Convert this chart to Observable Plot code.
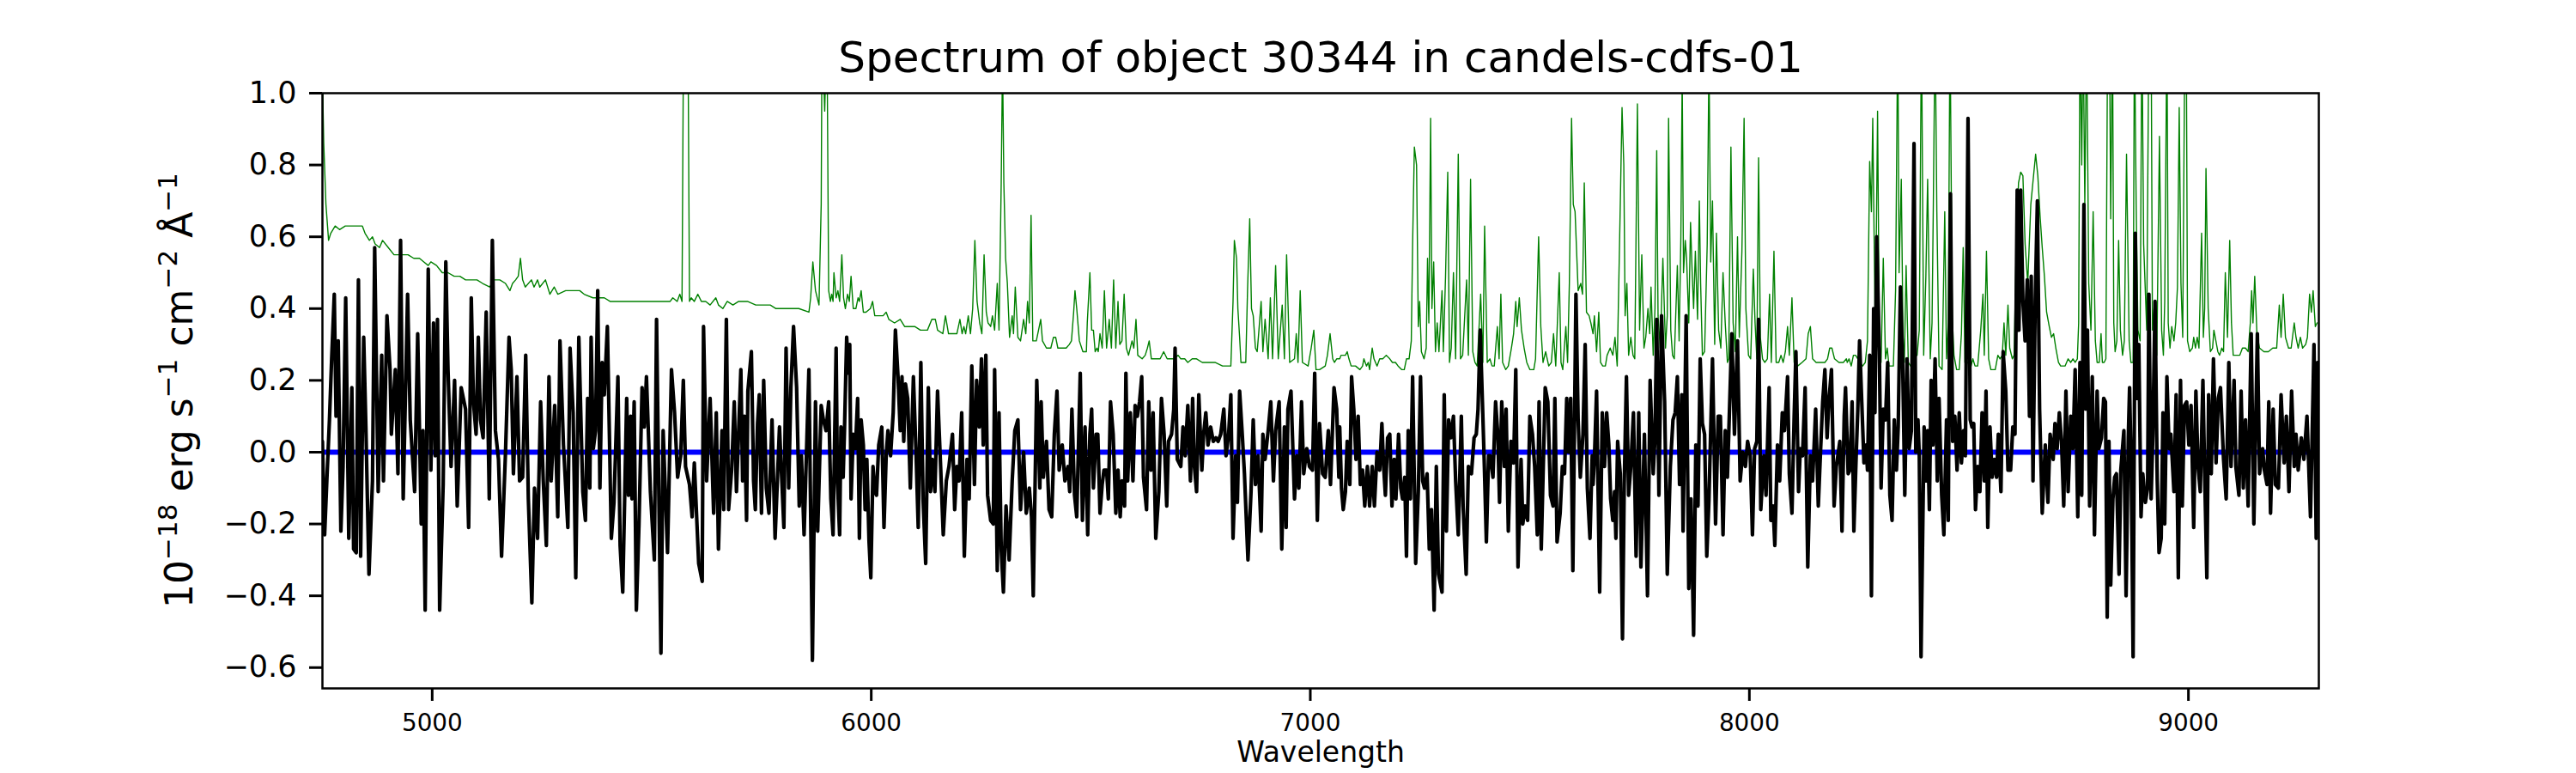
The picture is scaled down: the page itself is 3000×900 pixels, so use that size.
<!DOCTYPE html>
<html>
<head>
<meta charset="utf-8">
<script src="https://cdn.jsdelivr.net/npm/d3@7"></script>
<script src="https://cdn.jsdelivr.net/npm/@observablehq/plot@0.6"></script>
<style>
  html, body { margin: 0; padding: 0; background: #fff; }
  #chart svg { display: block; }
</style>
</head>
<body>
<div id="chart"></div>
<script>
const titleText = "Spectrum of object 30344 in candels-cdfs-01";
const xLabelText = "Wavelength";
const xTicks = [5000, 6000, 7000, 8000, 9000];
const yTicks = [-0.6, -0.4, -0.2, 0.0, 0.2, 0.4, 0.6, 0.8, 1.0];
const xDomain = [4750, 9297];
const yDomain = [-0.658, 1.0];
const zeroLevel = [0];

// observed flux [wavelength, flux]
const fluxSpectrum = [
[4750,0.03],[4755,-0.23],[4760,-0.08],[4766,0.09],[4771,0.26],[4777,0.44],[4781,0.10],[4786,0.31],[4792,-0.22],[4797,-0.04],[4803,0.43],[4810,-0.24],[4817,0.18],[4821,-0.27],[4827,-0.28],[4832,0.48],[4837,-0.29],[4844,0.32],[4849,0.07],[4856,-0.34],[4864,-0.08],[4869,0.57],[4877,-0.11],[4885,0.27],[4889,-0.08],[4897,0.38],[4904,0.23],[4907,0.05],[4916,0.23],[4922,-0.06],[4928,0.59],[4934,-0.13],[4944,0.44],[4950,0.09],[4960,-0.11],[4967,0.33],[4975,-0.20],[4979,0.06],[4984,-0.44],[4991,0.51],[4997,-0.05],[5003,0.36],[5007,-0.01],[5012,0.37],[5017,-0.44],[5025,-0.09],[5031,0.53],[5036,0.23],[5043,-0.04],[5051,0.20],[5057,-0.15],[5066,0.18],[5076,0.12],[5083,-0.21],[5089,0.43],[5094,0.14],[5100,0.05],[5105,0.32],[5110,0.09],[5116,0.04],[5123,0.39],[5130,-0.13],[5137,0.59],[5144,0.06],[5151,-0.02],[5158,-0.29],[5167,0.00],[5175,0.32],[5180,0.23],[5185,-0.06],[5193,0.21],[5199,-0.08],[5206,-0.07],[5213,0.27],[5219,-0.13],[5227,-0.42],[5233,-0.10],[5240,-0.24],[5247,0.14],[5253,-0.08],[5260,-0.26],[5266,0.21],[5271,-0.08],[5279,0.13],[5286,-0.18],[5291,0.31],[5299,0.02],[5309,-0.21],[5314,0.29],[5321,0.11],[5327,-0.35],[5334,0.32],
[5343,-0.11],[5349,-0.19],[5354,0.15],[5359,-0.10],[5362,0.32],[5367,0.01],[5372,0.06],[5377,0.45],[5382,-0.10],[5387,0.25],[5392,0.16],[5399,0.35],[5408,-0.24],[5414,-0.14],[5423,0.21],[5428,-0.26],[5434,-0.39],[5443,0.15],[5447,-0.12],[5452,0.10],[5455,-0.13],[5460,0.14],[5465,-0.44],[5471,-0.20],[5478,0.18],[5483,0.07],[5488,0.21],[5497,-0.11],[5506,-0.30],[5511,0.37],[5516,-0.10],[5521,-0.56],[5526,0.06],[5536,-0.28],[5545,0.23],[5552,0.11],[5559,-0.07],[5566,-0.01],[5572,0.20],[5577,-0.04],[5586,-0.09],[5592,-0.18],[5597,-0.03],[5607,-0.31],[5615,-0.36],[5618,0.35],[5625,-0.08],[5633,0.15],[5641,-0.17],[5647,0.11],[5652,-0.27],[5660,0.06],[5664,-0.16],[5670,0.37],[5675,-0.16],[5682,-0.05],[5688,0.14],[5693,-0.11],[5703,0.23],[5707,-0.08],[5711,0.10],[5716,-0.19],[5719,0.17],[5727,0.28],[5732,-0.08],[5736,-0.16],[5741,0.08],[5745,0.16],[5750,-0.17],[5755,0.20],[5761,-0.10],[5767,-0.17],[5774,0.09],[5781,-0.24],[5791,0.07],[5801,-0.21],[5806,0.29],[5812,-0.10],[5817,0.18],[5823,0.35],[5830,0.18],[5836,-0.15],[5841,-0.01],[5847,-0.23],[5858,0.23],[5866,-0.58],[5873,0.14],[5878,-0.22],[5886,0.13],[5891,0.09],[5897,0.06],[5903,0.14],[5908,-0.13],
[5913,-0.23],[5920,0.29],[5923,-0.08],[5928,-0.23],[5931,0.07],[5936,-0.07],[5939,0.06],[5944,0.32],[5948,0.22],[5951,0.30],[5954,-0.13],[5959,0.05],[5964,0.01],[5969,0.15],[5973,-0.24],[5977,0.09],[5982,0.02],[5986,-0.16],[5990,-0.02],[5995,-0.25],[5999,-0.35],[6004,-0.04],[6008,-0.11],[6012,-0.12],[6017,0.02],[6024,0.07],[6029,-0.21],[6034,-0.01],[6038,0.06],[6044,-0.01],[6050,0.11],[6055,0.34],[6061,0.21],[6066,0.06],[6070,0.21],[6074,0.03],[6078,0.19],[6083,0.15],[6089,-0.10],[6096,0.21],[6102,0.00],[6107,-0.21],[6113,0.25],[6118,-0.13],[6124,-0.31],[6130,0.18],[6135,-0.11],[6139,-0.02],[6145,-0.11],[6151,0.17],[6158,-0.04],[6164,-0.23],[6171,-0.08],[6177,-0.04],[6185,0.05],[6190,-0.16],[6195,-0.04],[6200,-0.08],[6206,0.11],[6212,-0.29],[6218,-0.02],[6223,-0.13],[6229,0.24],[6235,-0.09],[6240,0.20],[6246,0.07],[6251,0.26],[6255,0.02],[6261,0.27],[6265,-0.12],[6272,-0.19],[6278,-0.20],[6281,0.23],[6287,-0.33],[6291,0.11],[6296,-0.27],[6301,-0.39],[6307,-0.15],[6314,-0.30],[6321,-0.08],[6327,0.06],[6334,0.09],[6340,-0.16],[6347,0.00],[6353,-0.17],[6360,-0.10],[6365,-0.18],[6369,-0.40],[6377,0.20],[6384,-0.10],[6387,0.14],[6392,-0.07],[6399,0.03],[6405,-0.16],[6411,-0.18],[6417,0.05],[6423,0.17],[6428,-0.05],[6435,0.02],[6441,-0.08],[6448,-0.04],[6452,-0.11],[6457,0.12],[6463,-0.12],[6468,-0.18],[6476,0.22],[6481,-0.19],[6487,0.07],
[6493,-0.23],[6498,0.05],[6502,0.12],[6506,-0.10],[6512,0.05],[6516,0.05],[6521,-0.17],[6526,-0.09],[6530,-0.05],[6536,-0.05],[6540,-0.13],[6545,0.14],[6551,0.05],[6557,-0.17],[6562,-0.05],[6567,-0.18],[6571,-0.08],[6577,-0.15],[6580,0.22],[6584,-0.08],[6590,0.11],[6596,-0.08],[6601,0.13],[6606,0.10],[6611,0.14],[6616,0.21],[6620,-0.07],[6627,-0.16],[6632,0.14],[6637,-0.05],[6642,0.11],[6648,-0.24],[6655,-0.11],[6661,0.15],[6667,0.05],[6673,-0.15],[6677,0.03],[6684,0.05],[6689,0.12],[6692,0.29],[6697,-0.02],[6705,-0.04],[6710,0.07],[6715,-0.01],[6721,0.13],[6727,-0.08],[6732,0.15],[6736,-0.04],[6741,-0.11],[6746,0.16],[6753,-0.05],[6757,0.05],[6762,0.11],[6767,0.02],[6773,0.07],[6779,0.03],[6785,0.04],[6790,0.03],[6796,0.05],[6803,0.12],[6808,-0.01],[6814,0.05],[6819,0.16],[6824,-0.24],[6830,-0.01],[6834,-0.14],[6839,0.17],[6845,0.05],[6850,-0.06],[6858,-0.30],[6865,-0.11],[6870,0.09],[6875,-0.09],[6881,-0.01],[6888,-0.22],[6892,0.05],[6897,-0.02],[6904,0.06],[6910,0.14],[6916,-0.08],[6921,0.06],[6929,0.14],[6935,-0.27],[6941,0.07],[6945,-0.21],[6949,0.12],[6956,0.17],[6964,-0.13],[6969,-0.01],[6974,-0.10],[6980,0.14],[6985,-0.06],[6992,0.01],[6998,-0.04],[7005,-0.05],[7010,0.22],[7016,-0.19],[7021,0.08],[7028,-0.06],[7034,-0.07],[7041,0.06],[7046,-0.09],[7054,0.18],[7060,0.12],[7065,-0.07],
[7067,0.07],[7071,-0.10],[7075,-0.16],[7080,-0.11],[7084,0.03],[7090,-0.09],[7094,0.21],[7099,0.12],[7104,-0.02],[7109,0.10],[7114,-0.09],[7119,-0.05],[7124,-0.15],[7130,-0.04],[7135,-0.15],[7141,-0.04],[7146,-0.15],[7152,0.00],[7158,-0.05],[7163,0.08],[7167,-0.04],[7171,-0.12],[7176,0.04],[7181,0.05],[7186,-0.15],[7191,-0.02],[7195,-0.13],[7201,0.05],[7206,-0.10],[7210,-0.13],[7215,-0.07],[7219,-0.29],[7223,0.06],[7228,-0.13],[7233,0.21],[7240,-0.31],[7246,-0.11],[7251,0.21],[7256,-0.08],[7260,-0.10],[7266,-0.06],[7271,-0.27],[7276,-0.16],[7282,-0.44],[7287,-0.04],[7292,-0.34],[7300,-0.39],[7305,0.16],[7310,-0.22],[7315,0.09],[7320,0.04],[7326,0.10],[7331,-0.08],[7337,-0.23],[7344,0.10],[7348,-0.15],[7355,-0.34],[7360,-0.04],[7367,-0.06],[7373,0.04],[7378,0.05],[7382,0.12],[7387,0.34],[7392,0.14],[7396,-0.02],[7401,-0.25],[7406,-0.01],[7410,-0.01],[7416,-0.07],[7422,0.14],[7427,0.05],[7431,-0.14],[7436,0.14],[7442,-0.04],[7446,0.12],[7451,-0.22],[7457,0.03],[7463,-0.03],[7468,0.23],[7473,-0.32],[7480,-0.02],[7484,-0.20],[7489,-0.15],[7495,-0.19],[7500,0.10],[7506,0.05],[7511,-0.04],[7517,-0.23],[7521,0.14],[7526,-0.27],[7535,0.18],[7541,0.14],[7547,-0.12],[7553,-0.15],[7557,0.15],[7562,-0.25],[7569,-0.17],[7574,-0.04],[7579,-0.06],[7584,0.15],[7588,0.00],[7593,0.15],[7598,-0.33],[7605,0.44],[7610,0.09],[7615,-0.07],[7621,0.05],[7626,0.30],[7631,-0.10],[7637,-0.24],[7642,-0.01],
[7644,-0.09],[7647,-0.02],[7652,0.17],[7659,-0.39],[7665,0.11],[7670,-0.04],[7675,0.11],[7680,0.02],[7684,-0.13],[7689,-0.19],[7693,-0.11],[7696,-0.24],[7700,0.03],[7706,-0.06],[7711,-0.52],[7715,-0.09],[7720,0.21],[7725,-0.12],[7730,-0.04],[7736,0.11],[7742,-0.29],[7748,0.11],[7753,-0.32],[7761,0.05],[7768,-0.40],[7774,0.20],[7781,-0.06],[7785,0.04],[7789,0.37],[7794,-0.12],[7800,0.38],[7807,0.14],[7813,-0.34],[7820,-0.04],[7826,0.09],[7831,0.11],[7836,0.21],[7841,-0.09],[7846,0.16],[7849,-0.22],[7856,0.38],[7862,-0.38],[7867,-0.13],[7873,-0.51],[7878,0.02],[7883,-0.15],[7888,0.26],[7893,0.08],[7898,0.05],[7903,-0.29],[7908,-0.13],[7916,0.26],[7923,-0.20],[7929,0.10],[7934,0.10],[7940,-0.23],[7945,0.06],[7950,-0.07],[7955,0.13],[7960,0.33],[7966,0.05],[7973,0.31],[7979,-0.08],[7985,0.00],[7991,-0.04],[7996,0.03],[8002,-0.01],[8007,-0.23],[8012,0.01],[8017,0.03],[8021,0.37],[8026,-0.16],[8033,-0.01],[8038,-0.12],[8045,0.18],[8049,-0.19],[8054,-0.15],[8058,-0.26],[8064,0.02],[8069,-0.08],[8075,0.11],[8080,0.06],[8087,0.21],[8091,-0.06],[8097,-0.17],[8102,0.10],[8106,0.28],[8112,-0.11],[8116,0.01],[8121,-0.01],[8127,0.18],[8133,-0.32],[8139,-0.01],[8144,-0.08],[8151,0.12],[8157,-0.15],[8162,0.00],[8167,0.14],[8172,0.23],[8177,0.04],[8181,0.14],[8187,0.23],[8193,-0.15],[8198,-0.04],[8206,0.03],[8211,-0.22],[8216,0.10],[8219,0.18],
[8225,-0.06],[8229,-0.05],[8234,0.14],[8238,-0.22],[8243,-0.02],[8247,0.12],[8251,0.31],[8256,0.14],[8261,-0.03],[8266,0.02],[8269,-0.05],[8274,0.27],[8278,-0.40],[8283,0.40],[8286,0.11],[8290,0.60],[8296,0.28],[8300,-0.10],[8305,0.12],[8310,0.09],[8315,0.25],[8320,-0.12],[8325,-0.19],[8330,0.09],[8335,-0.05],[8339,0.07],[8344,0.46],[8349,0.26],[8354,-0.12],[8359,0.26],[8364,0.01],[8369,0.06],[8375,0.86],[8379,0.00],[8384,0.09],[8387,-0.01],[8391,-0.57],[8398,0.07],[8403,-0.08],[8406,0.06],[8410,-0.16],[8414,0.20],[8418,0.02],[8423,0.26],[8428,-0.08],[8432,0.15],[8438,-0.12],[8443,-0.23],[8449,0.09],[8453,-0.19],[8458,0.72],[8463,0.03],[8468,0.10],[8473,-0.05],[8478,0.11],[8483,-0.03],[8488,0.06],[8492,-0.01],[8498,0.93],[8503,0.09],[8507,0.07],[8511,0.08],[8515,-0.16],[8520,-0.04],[8525,-0.11],[8530,0.11],[8535,-0.08],[8539,0.17],[8543,-0.21],[8548,0.07],[8553,-0.07],[8558,-0.02],[8563,-0.07],[8567,0.05],[8573,-0.11],[8578,0.28],[8584,0.17],[8589,-0.05],[8595,-0.05],[8600,0.07],[8605,0.05],[8610,0.73],[8614,0.34],[8618,0.73],[8623,0.42],[8628,0.31],[8633,0.48],[8638,0.10],[8642,0.49],[8646,-0.08],[8651,0.42],[8656,0.70],[8661,0.12],[8667,-0.17],[8674,0.02],[8680,-0.14],[8685,0.05],[8692,-0.02],[8696,0.08],[8701,0.01],[8706,0.11],[8711,0.03],[8716,-0.15],[8721,0.17],[8726,-0.11],[8732,0.10],[8737,0.01],[8742,0.23],[8748,-0.18],[8753,0.25],[8757,-0.12],[8762,0.69],[8766,0.12],[8770,0.34],[8775,-0.15],[8781,0.21],[8786,-0.23],[8792,0.17],[8796,0.01],
[8802,0.04],[8807,0.15],[8811,0.14],[8815,-0.46],[8819,0.03],[8823,-0.37],[8828,-0.13],[8832,-0.07],[8836,-0.06],[8842,-0.34],[8846,-0.05],[8853,0.06],[8858,-0.40],[8863,0.04],[8866,0.18],[8870,-0.07],[8874,-0.57],[8879,0.61],[8883,0.15],[8887,0.30],[8892,-0.18],[8896,-0.06],[8902,-0.14],[8907,-0.10],[8910,0.44],[8915,-0.13],[8919,0.05],[8924,0.42],[8929,-0.08],[8933,-0.28],[8938,-0.24],[8942,0.11],[8946,-0.20],[8951,0.21],[8956,0.01],[8960,0.05],[8967,-0.11],[8972,0.16],[8977,-0.35],[8982,0.20],[8986,-0.15],[8991,0.13],[8996,0.14],[9001,0.02],[9006,0.13],[9012,-0.21],[9017,0.17],[9022,-0.04],[9027,-0.11],[9033,0.20],[9037,-0.06],[9042,-0.35],[9046,0.16],[9052,-0.06],[9057,0.26],[9063,-0.03],[9068,0.15],[9073,0.18],[9080,-0.02],[9086,-0.13],[9092,0.25],[9097,-0.04],[9104,0.20],[9108,-0.04],[9115,-0.12],[9120,0.17],[9125,-0.10],[9130,0.09],[9136,-0.15],[9143,0.33],[9149,-0.20],[9157,0.33],[9162,-0.06],[9169,0.01],[9173,-0.05],[9179,-0.09],[9183,0.14],[9187,-0.17],[9193,0.12],[9198,-0.09],[9205,-0.10],[9211,0.16],[9218,-0.03],[9223,0.10],[9229,-0.11],[9235,0.17],[9241,-0.04],[9245,0.05],[9250,-0.05],[9257,0.04],[9263,-0.02],[9270,0.10],[9278,-0.18],[9286,0.30],[9291,-0.24],[9294,0.25]
];

// green (sky / error) spectrum [wavelength, flux]
const skySpectrum = [
[4750,1.05],[4753,0.86],[4758,0.69],[4764,0.59],[4769,0.61],[4779,0.63],[4789,0.62],[4802,0.63],[4815,0.63],[4825,0.63],[4841,0.63],[4847,0.61],[4857,0.59],[4864,0.60],[4870,0.58],[4880,0.57],[4887,0.59],[4900,0.57],[4913,0.55],[4922,0.55],[4932,0.55],[4945,0.55],[4958,0.54],[4971,0.54],[4981,0.53],[4991,0.52],[4997,0.53],[5010,0.52],[5023,0.50],[5036,0.50],[5050,0.49],[5063,0.49],[5076,0.48],[5089,0.48],[5102,0.48],[5115,0.47],[5131,0.46],[5141,0.48],[5154,0.48],[5167,0.47],[5177,0.45],[5183,0.47],[5190,0.48],[5196,0.49],[5201,0.54],[5206,0.48],[5212,0.46],[5226,0.48],[5232,0.46],[5240,0.48],[5245,0.46],[5258,0.48],[5268,0.44],[5278,0.46],[5286,0.44],[5304,0.45],[5317,0.45],[5336,0.45],
[5346,0.44],[5366,0.43],[5379,0.43],[5392,0.43],[5405,0.42],[5424,0.42],[5444,0.42],[5460,0.42],[5476,0.42],[5499,0.42],[5522,0.42],[5542,0.42],[5548,0.43],[5558,0.42],[5564,0.44],[5569,0.42],[5573,1.3],[5578,1.8],[5582,1.3],[5586,0.42],[5590,0.43],[5597,0.42],[5605,0.44],[5613,0.42],[5623,0.42],[5633,0.41],[5646,0.43],[5652,0.41],[5662,0.40],[5672,0.42],[5685,0.41],[5698,0.42],[5718,0.42],[5737,0.41],[5757,0.41],[5770,0.41],[5783,0.40],[5809,0.40],[5835,0.40],[5858,0.39],[5862,0.43],[5867,0.53],[5873,0.45],[5881,0.41],[5886,0.69],[5888,1.2],[5894,0.95],[5899,1.2],[5903,0.45],[5907,0.42],[5910,0.44],[5913,0.42],
[5915,0.50],[5920,0.43],[5924,0.45],[5928,0.42],[5933,0.55],[5937,0.43],[5941,0.40],[5946,0.44],[5950,0.42],[5954,0.49],[5959,0.40],[5965,0.40],[5970,0.43],[5973,0.42],[5977,0.45],[5982,0.39],[5988,0.39],[5998,0.40],[6003,0.42],[6008,0.38],[6017,0.38],[6027,0.38],[6034,0.39],[6040,0.37],[6053,0.36],[6066,0.37],[6076,0.35],[6086,0.35],[6099,0.35],[6112,0.34],[6128,0.34],[6138,0.37],[6146,0.37],[6151,0.34],[6163,0.33],[6169,0.38],[6176,0.33],[6184,0.33],[6190,0.33],[6195,0.33],[6202,0.37],[6207,0.33],[6211,0.35],[6215,0.33],[6221,0.38],[6226,0.33],[6231,0.40],[6236,0.59],[6241,0.42],[6247,0.36],[6252,0.33],[6257,0.55],[6262,0.39],[6266,0.36],[6272,0.35],[6276,0.38],[6281,0.34],[6287,0.47],[6291,0.34],[6296,0.75],[6299,1.1],[6302,0.75],[6306,0.54],[6310,0.47],[6315,0.32],[6321,0.38],[6324,0.33],[6328,0.46],[6334,0.32],[6340,0.31],[6347,0.37],[6352,0.33],[6356,0.42],[6360,0.36],[6364,0.66],[6368,0.31],[6376,0.31],[6386,0.37],[6390,0.31],[6399,0.29],[6409,0.29],[6415,0.32],[6420,0.32],[6425,0.29],[6435,0.29],[6444,0.29],[6451,0.30],[6456,0.31],[6461,0.39],[6464,0.45],[6468,0.40],[6474,0.31],[6482,0.28],[6490,0.28],
[6492,0.36],[6498,0.50],[6502,0.34],[6506,0.34],[6510,0.28],[6514,0.29],[6517,0.28],[6521,0.33],[6526,0.29],[6531,0.45],[6536,0.29],[6542,0.37],[6547,0.29],[6552,0.48],[6557,0.29],[6562,0.42],[6566,0.30],[6571,0.31],[6576,0.44],[6581,0.29],[6586,0.27],[6594,0.31],[6598,0.29],[6603,0.37],[6607,0.27],[6617,0.26],[6624,0.27],[6629,0.29],[6633,0.31],[6638,0.26],[6650,0.26],[6658,0.26],[6666,0.28],[6674,0.26],[6689,0.26],[6699,0.27],[6705,0.26],[6714,0.26],[6721,0.25],[6731,0.26],[6741,0.26],[6754,0.25],[6774,0.25],[6783,0.25],[6800,0.24],[6819,0.24],[6824,0.42],[6827,0.59],[6832,0.54],[6835,0.40],[6839,0.32],[6842,0.25],[6848,0.25],[6853,0.25],[6857,0.45],[6862,0.65],[6866,0.40],[6870,0.38],[6875,0.29],[6879,0.28],[6883,0.34],[6888,0.42],[6892,0.28],[6897,0.37],[6904,0.26],[6909,0.43],[6914,0.26],[6921,0.52],[6927,0.26],[6936,0.41],[6941,0.26],[6946,0.55],[6953,0.25],[6964,0.26],[6968,0.33],[6972,0.25],[6977,0.45],[6982,0.25],[6995,0.24],[7002,0.29],[7008,0.34],[7013,0.23],[7021,0.23],[7034,0.24],[7039,0.27],[7045,0.33],[7051,0.26],[7055,0.25],[7060,0.26],[7067,0.26],
[7070,0.27],[7075,0.27],[7080,0.27],[7084,0.28],[7088,0.26],[7093,0.24],[7103,0.24],[7113,0.23],[7119,0.24],[7122,0.26],[7128,0.24],[7132,0.25],[7135,0.23],[7141,0.29],[7145,0.26],[7152,0.24],[7158,0.26],[7165,0.26],[7173,0.27],[7181,0.26],[7187,0.25],[7194,0.25],[7200,0.24],[7208,0.23],[7214,0.23],[7219,0.26],[7225,0.26],[7230,0.31],[7233,0.58],[7237,0.85],[7242,0.80],[7246,0.35],[7249,0.42],[7253,0.28],[7259,0.26],[7264,0.29],[7267,0.54],[7270,0.36],[7274,0.93],[7277,0.40],[7281,0.53],[7285,0.28],[7289,0.36],[7293,0.28],[7300,0.45],[7303,0.28],[7308,0.49],[7313,0.78],[7317,0.25],[7321,0.29],[7326,0.50],[7331,0.26],[7337,0.83],[7342,0.26],[7347,0.27],[7356,0.48],[7360,0.27],[7365,0.76],[7370,0.28],[7375,0.25],[7380,0.24],[7388,0.44],[7393,0.25],[7397,0.63],[7403,0.25],[7409,0.26],[7414,0.24],[7419,0.24],[7426,0.35],[7430,0.26],[7434,0.44],[7438,0.25],[7445,0.23],[7451,0.24],[7458,0.29],[7463,0.33],[7468,0.42],[7471,0.35],[7476,0.43],[7481,0.34],[7487,0.29],[7493,0.25],[7500,0.23],[7509,0.23],[7513,0.26],[7520,0.60],[7525,0.35],[7530,0.25],[7536,0.28],[7543,0.24],[7549,0.25],[7554,0.33],[7559,0.24],[7567,0.50],[7571,0.25],[7575,0.23],[7582,0.35],[7586,0.25],[7590,0.47],[7595,0.93],[7599,0.69],[7603,0.67],[7610,0.45],[7616,0.47],[7620,0.44],[7624,0.75],[7629,0.39],[7635,0.38],[7639,0.36],[7644,0.33],
[7647,0.38],[7652,0.28],[7657,0.39],[7661,0.25],[7666,0.24],[7672,0.24],[7676,0.27],[7683,0.29],[7689,0.27],[7694,0.32],[7699,0.24],[7706,0.69],[7710,0.96],[7714,0.80],[7717,0.38],[7721,0.47],[7725,0.27],[7730,0.32],[7735,0.27],[7739,0.26],[7745,0.97],[7750,0.34],[7755,0.55],[7760,0.29],[7764,0.32],[7769,0.40],[7773,0.33],[7776,0.46],[7781,0.27],[7785,0.40],[7789,0.84],[7792,0.38],[7797,0.29],[7803,0.54],[7809,0.29],[7813,0.38],[7816,0.93],[7821,0.34],[7825,0.27],[7829,0.26],[7836,0.52],[7840,0.31],[7844,0.60],[7847,1.05],[7850,0.50],[7854,0.59],[7857,0.54],[7862,0.36],[7866,0.64],[7870,0.49],[7873,0.40],[7877,0.56],[7882,0.37],[7886,0.70],[7889,0.47],[7893,0.27],[7898,0.28],[7904,0.58],[7908,1.1],[7912,0.53],[7916,0.70],[7921,0.30],[7925,0.61],[7930,0.34],[7935,0.29],[7940,0.50],[7945,0.36],[7950,0.25],[7953,0.26],[7958,0.85],[7963,0.36],[7968,0.28],[7973,0.60],[7977,0.32],[7983,0.56],[7988,0.93],[7992,0.40],[7998,0.27],[8003,0.26],[8009,0.51],[8013,0.36],[8017,0.26],[8021,0.82],[8025,0.32],[8030,0.26],[8035,0.25],[8041,0.26],[8046,0.44],[8050,0.25],[8056,0.56],[8061,0.25],[8067,0.25],[8072,0.27],[8077,0.25],[8082,0.28],[8087,0.35],[8091,0.27],[8097,0.43],[8102,0.25],[8110,0.24],[8120,0.25],[8129,0.26],[8134,0.33],[8139,0.35],[8144,0.26],[8152,0.25],[8162,0.25],[8172,0.25],[8178,0.26],[8183,0.29],[8188,0.29],[8194,0.26],[8204,0.25],[8214,0.25],[8221,0.26],
[8223,0.25],[8227,0.26],[8232,0.24],[8237,0.27],[8242,0.27],[8247,0.26],[8251,0.25],[8258,0.24],[8264,0.25],[8269,0.31],[8274,0.81],[8278,0.67],[8281,0.93],[8286,0.40],[8289,0.58],[8292,0.95],[8296,0.32],[8300,0.25],[8305,0.54],[8310,0.26],[8314,0.29],[8318,0.24],[8328,0.24],[8333,0.45],[8338,1.2],[8341,0.50],[8346,0.76],[8350,0.32],[8353,0.25],[8357,0.52],[8362,0.25],[8367,0.24],[8374,0.26],[8382,0.27],[8387,0.34],[8392,1.2],[8397,0.27],[8402,0.49],[8406,0.76],[8412,0.26],[8416,0.36],[8419,0.69],[8423,1.2],[8427,0.67],[8432,0.24],[8439,0.23],[8445,0.67],[8449,0.26],[8453,0.36],[8457,1.2],[8462,0.38],[8466,0.27],[8472,0.23],[8478,0.23],[8483,0.33],[8487,0.57],[8491,0.25],[8498,0.25],[8503,0.23],[8509,0.26],[8514,0.24],[8520,0.24],[8527,0.34],[8532,0.44],[8535,0.27],[8540,0.56],[8545,0.26],[8550,0.23],[8560,0.23],[8566,0.27],[8571,0.26],[8576,0.27],[8580,0.36],[8584,0.27],[8589,0.41],[8593,0.29],[8599,0.26],[8603,0.27],[8608,0.58],[8613,0.75],[8618,0.78],[8623,0.77],[8628,0.58],[8634,0.47],[8641,0.69],[8648,0.78],[8652,0.83],[8657,0.77],[8662,0.66],[8667,0.57],[8672,0.49],[8677,0.39],[8683,0.35],[8688,0.32],[8693,0.33],[8698,0.29],[8704,0.25],[8709,0.24],[8719,0.24],[8726,0.26],[8732,0.25],[8737,0.26],[8742,0.25],[8747,0.26],[8750,0.36],[8753,1.2],[8757,0.80],[8760,1.2],[8764,0.69],[8768,1.2],[8773,0.47],[8778,0.34],[8783,0.67],[8788,0.31],[8792,0.25],[8797,0.25],
[8801,0.33],[8804,0.25],[8808,0.25],[8812,0.26],[8816,1.2],[8820,1.2],[8823,0.65],[8827,1.2],[8830,0.36],[8833,0.28],[8837,0.31],[8841,0.59],[8845,0.34],[8850,0.27],[8854,0.31],[8859,0.83],[8865,0.31],[8869,0.25],[8874,0.25],[8877,1.2],[8881,0.69],[8885,0.34],[8890,0.31],[8894,1.2],[8898,0.58],[8905,0.34],[8910,1.2],[8915,1.2],[8918,0.34],[8923,0.42],[8928,0.27],[8934,0.88],[8939,0.34],[8943,0.27],[8946,0.42],[8951,1.2],[8954,0.36],[8958,0.29],[8962,0.35],[8967,0.31],[8971,0.36],[8975,0.46],[8979,0.96],[8983,0.47],[8987,0.32],[8992,1.2],[8995,1.2],[8998,0.31],[9003,0.28],[9009,0.29],[9012,0.32],[9016,0.29],[9020,0.32],[9024,0.29],[9030,0.61],[9034,0.32],[9037,0.40],[9040,0.79],[9045,0.40],[9050,0.28],[9055,0.29],[9058,0.34],[9061,0.32],[9067,0.28],[9071,0.27],[9076,0.29],[9080,0.28],[9084,0.50],[9089,0.32],[9094,0.59],[9098,0.36],[9102,0.27],[9110,0.27],[9117,0.27],[9123,0.29],[9130,0.29],[9136,0.28],[9141,0.36],[9144,0.45],[9147,0.36],[9151,0.49],[9156,0.33],[9162,0.29],[9172,0.28],[9182,0.28],[9192,0.29],[9201,0.29],[9207,0.41],[9211,0.32],[9216,0.44],[9221,0.32],[9228,0.29],[9234,0.29],[9241,0.36],[9245,0.32],[9250,0.29],[9255,0.32],[9260,0.29],[9267,0.30],[9271,0.32],[9276,0.44],[9280,0.39],[9284,0.45],[9289,0.35],[9293,0.36]
];

const FONT = "DejaVu Sans, Liberation Sans, sans-serif";

const chart = Plot.plot({
  width: 3000,
  height: 900,
  marginLeft: 375,
  marginRight: 300,
  marginTop: 108,
  marginBottom: 99,
  x: {domain: xDomain},
  y: {domain: yDomain},
  style: {fontFamily: FONT, background: "#fff", color: "#000", overflow: "visible"},
  marks: [
    Plot.line(skySpectrum, {x: d => d[0], y: d => d[1], stroke: "#008000", strokeWidth: 1.4, clip: true}),
    Plot.ruleY(zeroLevel, {stroke: "#0000ff", strokeWidth: 6}),
    Plot.line(fluxSpectrum, {x: d => d[0], y: d => d[1], stroke: "#000", strokeWidth: 4.2, clip: true}),
    Plot.frame({stroke: "#000", strokeWidth: 2.5}),
    Plot.axisX({ticks: xTicks, tickFormat: d => String(d), tickSize: 15, tickPadding: 15, fontSize: 27.8, strokeWidth: 3, label: null}),
    Plot.axisY({ticks: yTicks, tickFormat: d3.format(".1f"), tickSize: 15, tickPadding: 15, fontSize: 35, strokeWidth: 3, label: null}),
    Plot.text([titleText], {text: d => d, frameAnchor: "top", lineAnchor: "bottom", dy: -25, fontSize: 50, fill: "#000"}),
    Plot.text([xLabelText], {text: d => d, frameAnchor: "bottom", lineAnchor: "bottom", dy: 85, fontSize: 33, fill: "#000"})
  ]
});

document.getElementById("chart").appendChild(chart);

// y-axis label with superscripts (real text)
const yLabelParts = [
  {t: "10", sup: false}, {t: "\u221218", sup: true},
  {t: " erg s", sup: false}, {t: "\u22121", sup: true},
  {t: " cm", sup: false}, {t: "\u22122", sup: true},
  {t: " \u00C5", sup: false}, {t: "\u22121", sup: true}
];
const lab = d3.select(chart).append("text")
  .attr("transform", "translate(224,454.5) rotate(-90)")
  .attr("text-anchor", "middle")
  .attr("font-family", FONT)
  .attr("font-size", 44)
  .attr("fill", "#000");
let prevSup = false;
for (const p of yLabelParts) {
  const ts = lab.append("tspan").text(p.t);
  if (p.sup && !prevSup) ts.attr("dy", -18).attr("font-size", 31);
  else if (!p.sup && prevSup) ts.attr("dy", 18);
  else if (p.sup) ts.attr("font-size", 31);
  prevSup = p.sup;
}
</script>
</body>
</html>
